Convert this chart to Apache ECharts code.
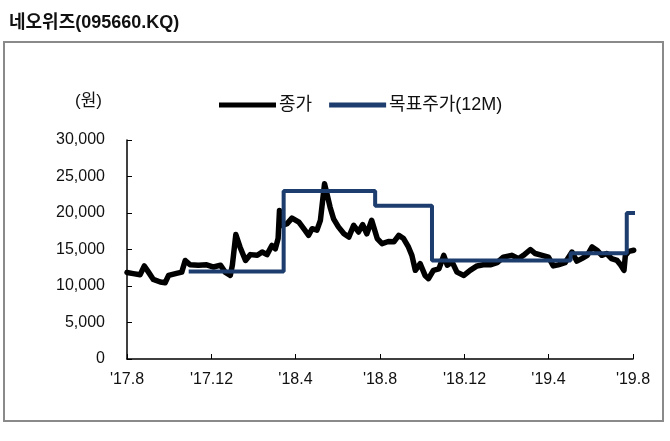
<!DOCTYPE html>
<html>
<head>
<meta charset="utf-8">
<script src="https://cdn.jsdelivr.net/npm/echarts@6/dist/echarts.min.js"></script>
<style>
  html, body { margin: 0; padding: 0; background: #fff; }
  #chart { width: 670px; height: 441px; }
</style>
</head>
<body>
<div id="chart"></div>
<script>
  // 종가 (close)
  const closeDates = [
    "2017-08-01", "2017-08-10", "2017-08-20", "2017-08-26", "2017-09-01", "2017-09-08",
    "2017-09-18", "2017-09-25", "2017-09-30", "2017-10-10", "2017-10-19", "2017-10-24",
    "2017-10-31", "2017-11-12", "2017-11-24", "2017-12-04", "2017-12-14", "2017-12-21",
    "2017-12-28", "2017-12-31", "2018-01-05", "2018-01-11", "2018-01-19", "2018-01-26",
    "2018-02-05", "2018-02-12", "2018-02-19", "2018-02-26", "2018-03-03", "2018-03-07",
    "2018-03-09", "2018-03-13", "2018-03-20", "2018-03-27", "2018-04-06", "2018-04-13",
    "2018-04-20", "2018-04-25", "2018-05-02", "2018-05-07", "2018-05-13", "2018-05-17",
    "2018-05-21", "2018-05-26", "2018-06-02", "2018-06-10", "2018-06-17", "2018-06-24",
    "2018-07-01", "2018-07-07", "2018-07-13", "2018-07-20", "2018-07-28", "2018-08-04",
    "2018-08-13", "2018-08-21", "2018-08-28", "2018-09-04", "2018-09-11", "2018-09-16",
    "2018-09-21", "2018-09-28", "2018-10-05", "2018-10-10", "2018-10-17", "2018-10-25",
    "2018-11-01", "2018-11-06", "2018-11-13", "2018-11-20", "2018-11-30", "2018-12-09",
    "2018-12-19", "2018-12-28", "2019-01-07", "2019-01-17", "2019-01-26", "2019-02-07",
    "2019-02-17", "2019-02-24", "2019-03-06", "2019-03-13", "2019-03-23", "2019-04-01",
    "2019-04-08", "2019-04-15", "2019-04-25", "2019-05-05", "2019-05-12", "2019-05-19",
    "2019-05-27", "2019-06-03", "2019-06-10", "2019-06-17", "2019-06-24", "2019-07-01",
    "2019-07-09", "2019-07-14", "2019-07-19", "2019-07-21", "2019-07-26", "2019-08-02"
  ];
  const closeValues = [
    11850, 11700, 11550, 12750, 11900, 10900,
    10550, 10450, 11450, 11700, 11900, 13500,
    12900, 12850, 12900, 12600, 12850, 11850,
    11450, 12850, 17050, 15350, 13500, 14300,
    14200, 14650, 14300, 15550, 15100, 16500,
    20350, 18300, 18550, 19300, 18750, 17850,
    16950, 17850, 17650, 19000, 24000, 22400,
    20800, 19200, 18100, 17150, 16700, 18300,
    17400, 18400, 17150, 19000, 16500, 15800,
    16100, 16050, 16950, 16500, 15350, 14200,
    12150, 13050, 11450, 11000, 12150, 12350,
    14200, 12850, 13300, 11900, 11450, 12150,
    12750, 12900, 12900, 13200, 13950, 14200,
    13750, 14200, 15000, 14450, 14200, 13950,
    12750, 12900, 13200, 14650, 13400, 13750,
    14200, 15350, 14900, 14200, 14450, 13750,
    13500, 12900, 12150, 14200, 14750, 14900
  ];

  // 목표주가(12M) (target price, each value holds until the next date)
  const targetDates = ["2017-10-29", "2018-03-15", "2018-07-25", "2018-10-15", "2019-05-03", "2019-07-23", "2019-08-09"];
  const targetValues = [12000, 23000, 21000, 13500, 14500, 20000, 20000];

  const tickDates = ["2017-08-01", "2017-12-01", "2018-04-01", "2018-08-01", "2018-12-01", "2019-04-01", "2019-08-01"];
  const yTicks = { min: 0, max: 30000, interval: 5000 };

  const toTime = (s) => Date.parse(s);
  const closeData = closeDates.map((d, i) => [toTime(d), closeValues[i]]);
  const targetData = targetDates.map((d, i) => [toTime(d), targetValues[i]]);
  const tickTimes = tickDates.map(toTime);

  const latin = "'Liberation Sans', Arial, 'Noto Sans CJK KR', sans-serif";
  const kr = "'Liberation Sans', 'Noto Sans CJK KR', sans-serif";
  const navy = "#1c3d6e";

  const chart = echarts.init(document.getElementById("chart"), null, { renderer: "canvas" });

  chart.setOption({
    animation: false,
    backgroundColor: "#fff",
    title: {
      text: "네오위즈(095660.KQ)",
      left: 4,
      top: 9,
      textStyle: { fontFamily: kr, fontSize: 18, fontWeight: "bold", color: "#111" },
    },
    graphic: [
      {
        type: "rect",
        shape: { x: 4, y: 42, width: 659, height: 379 },
        style: { fill: "none", stroke: "#8a8a8a", lineWidth: 2 },
        silent: true,
      },
      {
        type: "text",
        left: 75,
        top: 93,
        style: { text: "(원)", font: "17px " + kr, fill: "#111" },
      },
    ],
    legend: {
      left: 214,
      top: 91,
      icon: "rect",
      itemWidth: 57,
      itemHeight: 5,
      itemGap: 17,
      textStyle: { fontFamily: kr, fontSize: 18, color: "#111", padding: [0, 0, 0, -2] },
      data: ["종가", "목표주가(12M)"],
    },
    grid: { left: 127, right: 37, top: 140, bottom: 82 },
    xAxis: {
      type: "value",
      min: tickTimes[0],
      max: tickTimes[tickTimes.length - 1],
      splitLine: { show: false },
      axisLine: { lineStyle: { color: "#000", width: 1.5 } },
      axisTick: { inside: true, length: 5, customValues: tickTimes, lineStyle: { color: "#000", width: 1 } },
      axisLabel: {
        customValues: tickTimes,
        margin: 13,
        fontFamily: latin,
        fontSize: 16,
        color: "#111",
        formatter: (v) => {
          const d = new Date(v);
          return "'" + String(d.getUTCFullYear()).slice(2) + "." + (d.getUTCMonth() + 1);
        },
      },
    },
    yAxis: {
      type: "value",
      min: yTicks.min,
      max: yTicks.max,
      interval: yTicks.interval,
      splitLine: { show: false },
      axisLine: { show: true, lineStyle: { color: "#000", width: 1.5 } },
      axisTick: { show: true, inside: true, length: 5, lineStyle: { color: "#000", width: 1 } },
      axisLabel: {
        margin: 22,
        fontFamily: latin,
        fontSize: 16,
        color: "#111",
        formatter: (v) => v.toLocaleString("en-US"),
      },
    },
    series: [
      {
        name: "종가",
        type: "line",
        color: "#000",
        showSymbol: false,
        lineStyle: { width: 5.5, color: "#000", join: "round", cap: "round" },
        data: closeData,
        clip: false,
        z: 2,
      },
      {
        name: "목표주가(12M)",
        type: "line",
        step: "end",
        color: navy,
        showSymbol: false,
        lineStyle: { width: 4, color: navy },
        data: targetData,
        clip: false,
        z: 3,
      },
    ],
  });
</script>
</body>
</html>
